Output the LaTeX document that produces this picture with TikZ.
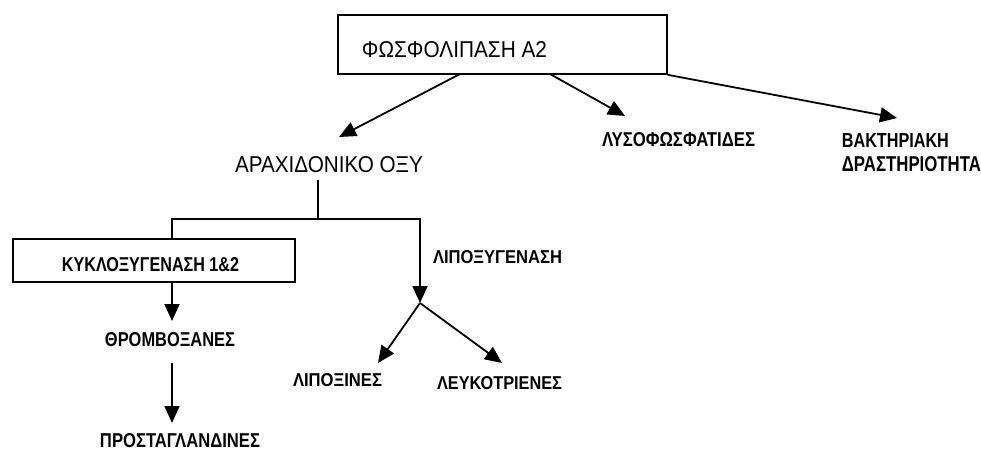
\documentclass[tikz,border=0pt]{standalone}
\usepackage{fontspec}
\setmainfont{Liberation Sans}
\usetikzlibrary{arrows.meta,calc}
\newcommand{\lbl}[3]{\resizebox{#1pt}{#2pt}{#3}}
\begin{document}
\begin{tikzpicture}[x=1pt,y=-1pt,line width=1.8pt,
  box/.style={draw,line width=1.7pt,inner sep=0pt},
  lab/.style={inner sep=0pt,font=\bfseries},
  reg/.style={inner sep=0pt},
  arr/.style={-{Triangle[length=17pt,width=15pt]}}]
\useasboundingbox (0,0) rectangle (981,450);
% boxes
\node[box,minimum width=329pt,minimum height=59pt] (pla) at (502.5,44.5) {};
\node[box,minimum width=282pt,minimum height=43pt] (kyk) at (154,260.5) {};
% texts
\node[reg] (plat) at (454.5,50) {\lbl{185}{16}{ΦΩΣΦΟΛΙΠΑΣΗ Α2}};
\node[reg] (arach) at (329,165) {\lbl{188}{16}{ΑΡΑΧΙΔΟΝΙΚΟ ΟΞΥ}};
\node[lab] (lyso) at (678.5,140) {\lbl{153}{14}{ΛΥΣΟΦΩΣΦΑΤΙΔΕΣ}};
\node[lab,anchor=west] (bakt1) at (841,140) {\lbl{107}{14}{ΒΑΚΤΗΡΙΑΚΗ}};
\node[lab,anchor=west] (bakt2) at (841,164) {\lbl{139}{15}{ΔΡΑΣΤΗΡΙΟΤΗΤΑ}};
\node[lab] (kykt) at (150.5,265) {\lbl{177}{14}{ΚΥΚΛΟΞΥΓΕΝΑΣΗ 1\&2}};
\node[lab] (lipox) at (497.5,257) {\lbl{129}{13}{ΛΙΠΟΞΥΓΕΝΑΣΗ}};
\node[lab] (thr) at (170,340) {\lbl{130}{14}{ΘΡΟΜΒΟΞΑΝΕΣ}};
\node[lab] (prost) at (180,440.5) {\lbl{160}{14}{ΠΡΟΣΤΑΓΛΑΝΔΙΝΕΣ}};
\node[lab] (lipoxin) at (337.5,380) {\lbl{89}{13}{ΛΙΠΟΞΙΝΕΣ}};
\node[lab] (leuk) at (499.5,383) {\lbl{125}{13}{ΛΕΥΚΟΤΡΙΕΝΕΣ}};
% coordinates
\coordinate (s1) at (460,74);
\coordinate (s2) at (550,74);
\coordinate (t1) at (339,137);
\coordinate (t2) at (625,116);
\coordinate (t3) at (897,118);
\coordinate (a0) at (318,180);
\coordinate (j) at (318,219);
\coordinate (jl) at (172,219);
\coordinate (split) at (420,303);
\coordinate (tthr) at (172,321);
\coordinate (sthr) at (172,363);
\coordinate (tpro) at (172,423);
\coordinate (tlx) at (378,363);
\coordinate (tlk) at (502,363);
% connectors
\draw[arr] (s1) -- (t1);
\draw[arr] (s2) -- (t2);
\draw[arr] (pla.south east) -- (t3);
\draw (a0) -- (j) -- (jl) -- (jl |- kyk.north);
\draw[arr] (j) -| (split);
\draw[arr] (split) -- (tlx);
\draw[arr] (split) -- (tlk);
\draw[arr] (kyk.south -| jl) -- (tthr);
\draw[arr] (sthr) -- (tpro);
\end{tikzpicture}
\end{document}
